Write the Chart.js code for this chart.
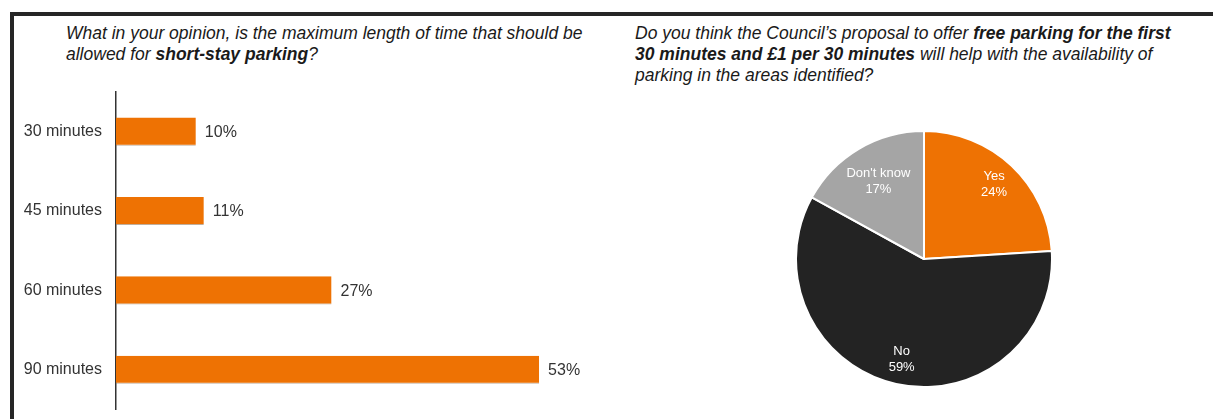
<!DOCTYPE html>
<html>
<head>
<meta charset="utf-8">
<script src="https://cdn.jsdelivr.net/npm/chart.js@4"></script>
<style>
  body { margin: 0; background: #fff; width: 1213px; height: 419px; overflow: hidden; position: relative; font-family: "Liberation Sans", Arial, sans-serif; }
  .frameTop { position: absolute; left: 10px; top: 12px; right: 0; height: 4px; background: #262626; }
  .frameLeft { position: absolute; left: 10px; top: 12px; width: 4px; bottom: 0; background: #262626; }
  .title { position: absolute; font-size: 17.5px; font-style: italic; line-height: 21px; color: #1a1a1a; white-space: nowrap; }
  #barCanvas { position: absolute; left: 0; top: 0; }
  #pieCanvas { position: absolute; left: 795px; top: 130px; }
</style>
</head>
<body>
<div class="frameTop"></div>
<div class="frameLeft"></div>
<div class="title" style="left:66px; top:23px;">What in your opinion, is the maximum length of time that should be<br>allowed for <b>short-stay parking</b>?</div>
<div class="title" style="left:635px; top:23px;">Do you think the Council’s proposal to offer <b>free parking for the first</b><br><b>30 minutes and £1 per 30 minutes</b> will help with the availability of<br>parking in the areas identified?</div>
<canvas id="barCanvas" width="620" height="433"></canvas>
<canvas id="pieCanvas" width="258" height="258"></canvas>
<script>
// bar chart data
var durations = ["30 minutes", "45 minutes", "60 minutes", "90 minutes"];
var durationPct = [10, 11, 27, 53];

// pie chart data
var answers = ["Yes", "No", "Don't know"];
var answerPct = [24, 59, 17];
var answerColours = ["#ee7203", "#232323", "#a5a5a5"];

var orange = "#ee7203";

// value labels at the end of each bar
var barValueLabels = {
	id: "barValueLabels",
	afterDatasetsDraw: function(chart) {
		var ctx = chart.ctx;
		var meta = chart.getDatasetMeta(0);
		ctx.save();
		ctx.font = "16px 'Liberation Sans', Arial, sans-serif";
		ctx.fillStyle = "#333";
		ctx.textAlign = "left";
		ctx.textBaseline = "middle";
		meta.data.forEach(function(bar, i) {
			ctx.fillText(durationPct[i] + "%", bar.x + 9, bar.y + 1);
		});
		ctx.restore();
	}
};

new Chart(document.getElementById("barCanvas"), {
	type: "bar",
	data: {
		labels: durations,
		datasets: [{
			data: durationPct,
			backgroundColor: orange,
			borderColor: "rgba(150,120,90,0.6)",
			borderWidth: {top: 0, bottom: 1, left: 0, right: 0},
			borderSkipped: false,
			barPercentage: 1,
			categoryPercentage: 0.355
		}]
	},
	options: {
		indexAxis: "y",
		responsive: false,
		animation: false,
		layout: { padding: { top: 92, bottom: 10, right: 25, left: 0 } },
		plugins: { legend: { display: false }, tooltip: { enabled: false } },
		scales: {
			x: { display: false, min: 0, max: 60 },
			y: {
				grid: { display: false, drawTicks: false },
				border: { display: true, color: "#333", width: 1.5 },
				ticks: {
					padding: 14,
					color: "#333",
					font: { family: "'Liberation Sans', Arial, sans-serif", size: 16 }
				},
				afterFit: function(scale) { scale.width = 116; }
			}
		}
	},
	plugins: [barValueLabels]
});

// labels inside the pie slices
var pieLabelRadius = [0.8, 0.8, 0.7];
var pieLabels = {
	id: "pieLabels",
	afterDatasetsDraw: function(chart) {
		var ctx = chart.ctx;
		var meta = chart.getDatasetMeta(0);
		ctx.save();
		ctx.font = "13px 'Liberation Sans', Arial, sans-serif";
		ctx.fillStyle = "#fff";
		ctx.textAlign = "center";
		ctx.textBaseline = "middle";
		meta.data.forEach(function(arc, i) {
			var mid = (arc.startAngle + arc.endAngle) / 2;
			var r = arc.outerRadius * pieLabelRadius[i];
			var x = arc.x + Math.cos(mid) * r;
			var y = arc.y + Math.sin(mid) * r;
			ctx.fillText(answers[i], x, y - 8);
			ctx.fillText(answerPct[i] + "%", x, y + 8);
		});
		ctx.restore();
	}
};

new Chart(document.getElementById("pieCanvas"), {
	type: "pie",
	data: {
		labels: answers,
		datasets: [{
			data: answerPct,
			backgroundColor: answerColours,
			borderColor: "#fff",
			borderWidth: 2
		}]
	},
	options: {
		responsive: false,
		animation: false,
		plugins: { legend: { display: false }, tooltip: { enabled: false } }
	},
	plugins: [pieLabels]
});
</script>
</body>
</html>
